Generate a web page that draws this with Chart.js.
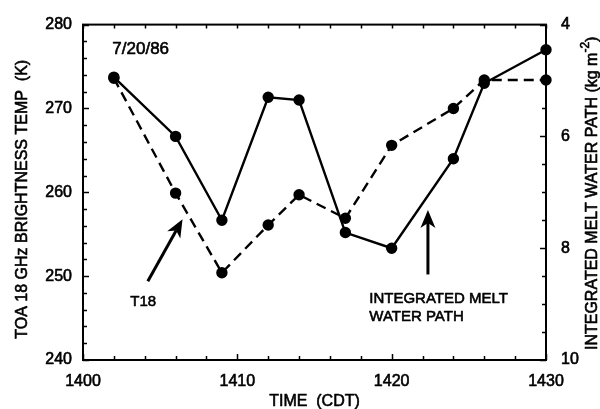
<!DOCTYPE html>
<html>
<head>
<meta charset="utf-8">
<script src="https://cdn.jsdelivr.net/npm/chart.js@4/dist/chart.umd.min.js"></script>
<style>
  html, body { margin: 0; padding: 0; background: #fff; }
  #wrap { width: 600px; height: 409px; position: relative; }
</style>
</head>
<body>
<div id="wrap"><canvas id="c" width="600" height="409"></canvas></div>
<script>
// Sampling times (CDT, hhmm)
const times = [1402, 1406, 1409, 1412, 1414, 1417, 1420, 1424, 1426, 1430];
// Top-of-atmosphere 18 GHz brightness temperature (K)
const t18 = [273.6, 259.9, 250.4, 256.1, 259.7, 256.9, 265.6, 270.0, 273.4, 273.4];
// Integrated melt water path (kg m^-2)
const meltPath = [4.94, 6.00, 7.50, 5.30, 5.35, 7.72, 8.00, 6.40, 5.05, 4.45];
// Axis tick values
const timeTicks = [1400, 1410, 1420, 1430];
const tempTicks = [240, 250, 260, 270, 280];
const pathTicks = [4, 6, 8, 10];

const FONT = '"Liberation Sans", Arial, Helvetica, sans-serif';
const INK = '#000';
const TEXT_STROKE = 0.6;

const pts = (xs, ys) => xs.map((x, i) => ({ x: x, y: ys[i] }));

// Text with a thin outline so glyphs read as heavy as the plotted lines
function heavyText(ctx, str, x, y) {
  ctx.fillText(str, x, y);
  ctx.strokeText(str, x, y);
}

// Inward tick marks, plot frame, axis titles, notes and arrows
const decorations = {
  id: 'decorations',
  afterDraw(chart) {
    const { ctx, chartArea: a, scales } = chart;
    const sx = scales.x, sy = scales.y, sy2 = scales.y2;
    ctx.save();
    ctx.strokeStyle = INK;
    ctx.fillStyle = INK;

    // frame
    ctx.lineWidth = 2;
    ctx.strokeRect(a.left, a.top, a.right - a.left, a.bottom - a.top);

    // ticks
    ctx.lineWidth = 1.5;
    ctx.beginPath();
    for (let t = 1400; t <= 1430; t += 2) {
      const px = Math.round(sx.getPixelForValue(t)) + 0.5;
      const major = (t % 10 === 0);
      ctx.moveTo(px, a.bottom); ctx.lineTo(px, a.bottom - (major ? 6 : 4));
      ctx.moveTo(px, a.top); ctx.lineTo(px, a.top + 4);
    }
    for (let v = 240; v <= 280; v += 2) {
      const py = Math.round(sy.getPixelForValue(v)) + 0.5;
      ctx.moveTo(a.left, py); ctx.lineTo(a.left + (v % 10 === 0 ? 6 : 4), py);
    }
    for (let v = 4; v <= 10; v += 0.5) {
      const py = Math.round(sy2.getPixelForValue(v)) + 0.5;
      ctx.moveTo(a.right, py); ctx.lineTo(a.right - (v % 2 === 0 ? 6 : 4), py);
    }
    ctx.stroke();

    // arrows with broad filled heads
    const arrow = (x0, y0, x1, y1) => {
      const ang = Math.atan2(y1 - y0, x1 - x0);
      const hl = 18, hw = 7.5, notch = 5;
      const c = Math.cos(ang), s = Math.sin(ang);
      const bx = x1 - hl * c, by = y1 - hl * s;
      ctx.lineWidth = 3;
      ctx.beginPath(); ctx.moveTo(x0, y0); ctx.lineTo(bx + notch * c, by + notch * s); ctx.stroke();
      ctx.beginPath();
      ctx.moveTo(x1, y1);
      ctx.lineTo(bx + hw * s, by - hw * c);
      ctx.lineTo(bx + notch * c, by + notch * s);
      ctx.lineTo(bx - hw * s, by + hw * c);
      ctx.closePath(); ctx.fill();
    };
    arrow(sx.getPixelForValue(1404.2), sy.getPixelForValue(249.4),
          sx.getPixelForValue(1406.45), sy.getPixelForValue(256.8));
    arrow(sx.getPixelForValue(1422.35), sy.getPixelForValue(250.2),
          sx.getPixelForValue(1422.35), sy.getPixelForValue(257.9));

    ctx.lineWidth = TEXT_STROKE;
    ctx.lineJoin = 'round';
    ctx.textBaseline = 'alphabetic';

    // notes
    ctx.textAlign = 'left';
    ctx.font = '17px ' + FONT;
    heavyText(ctx, '7/20/86', sx.getPixelForValue(1401.9), sy.getPixelForValue(276.5));
    ctx.font = '15px ' + FONT;
    ctx.textAlign = 'center';
    heavyText(ctx, 'T18', sx.getPixelForValue(1403.9), sy.getPixelForValue(246.4));
    ctx.textAlign = 'left';
    heavyText(ctx, 'INTEGRATED MELT', sx.getPixelForValue(1418.55), sy.getPixelForValue(246.8));
    heavyText(ctx, 'WATER PATH', sx.getPixelForValue(1418.55), sy.getPixelForValue(244.7));

    // x axis title
    ctx.font = '16px ' + FONT;
    ctx.textAlign = 'center';
    heavyText(ctx, 'TIME  (CDT)', (a.left + a.right) / 2, 406);

    // left axis title, reading upward
    ctx.save();
    ctx.translate(27, (a.top + a.bottom) / 2 + 7);
    ctx.rotate(-Math.PI / 2);
    ctx.textAlign = 'center';
    heavyText(ctx, 'TOA 18 GHz BRIGHTNESS TEMP  (K)', 0, 0);
    ctx.restore();

    // right axis title, reading upward, with superscript exponent
    ctx.save();
    ctx.translate(597, (a.top + a.bottom) / 2 + 1);
    ctx.rotate(-Math.PI / 2);
    ctx.textAlign = 'left';
    const main = 'INTEGRATED MELT WATER PATH (kg m';
    const sup = '-2';
    const tail = ')';
    ctx.font = '16px ' + FONT;
    const wMain = ctx.measureText(main).width, wTail = ctx.measureText(tail).width;
    ctx.font = '12px ' + FONT;
    const wSup = ctx.measureText(sup).width;
    let x = -(wMain + wSup + wTail) / 2;
    ctx.font = '16px ' + FONT;
    heavyText(ctx, main, x, 0); x += wMain;
    ctx.font = '12px ' + FONT;
    heavyText(ctx, sup, x, -8); x += wSup;
    ctx.font = '16px ' + FONT;
    heavyText(ctx, tail, x, 0);
    ctx.restore();

    ctx.restore();
  }
};

const tickStyle = (pad) => ({
  color: INK, padding: pad,
  font: { family: FONT, size: 16 },
  textStrokeColor: INK, textStrokeWidth: TEXT_STROKE,
  maxRotation: 0,
  callback: v => String(v)
});

new Chart(document.getElementById('c'), {
  type: 'line',
  data: {
    datasets: [
      {
        label: 'Integrated melt water path',
        data: pts(times, meltPath),
        yAxisID: 'y2',
        borderColor: INK,
        backgroundColor: INK,
        borderWidth: 2.4,
        pointRadius: 4.5,
        pointHoverRadius: 4.5,
        tension: 0,
        clip: false
      },
      {
        label: 'T18',
        data: pts(times, t18),
        yAxisID: 'y',
        borderColor: INK,
        backgroundColor: INK,
        borderWidth: 2.4,
        borderDash: [10, 6],
        pointRadius: 4.5,
        pointHoverRadius: 4.5,
        tension: 0,
        clip: false
      }
    ]
  },
  options: {
    responsive: false,
    animation: false,
    devicePixelRatio: 1,
    layout: { padding: { top: 18, left: 0, right: 0, bottom: 0 } },
    plugins: { legend: { display: false }, tooltip: { enabled: false } },
    scales: {
      x: {
        type: 'linear',
        min: 1400, max: 1430,
        afterFit(s) { s.height = 49; },
        afterBuildTicks(s) { s.ticks = timeTicks.map(v => ({ value: v })); },
        grid: { display: false, drawTicks: false },
        border: { display: false },
        ticks: tickStyle(12)
      },
      y: {
        position: 'left',
        min: 240, max: 280,
        afterFit(s) { s.width = 83; },
        afterBuildTicks(s) { s.ticks = tempTicks.map(v => ({ value: v })); },
        grid: { display: false, drawTicks: false },
        border: { display: false },
        ticks: tickStyle(11)
      },
      y2: {
        position: 'right',
        reverse: true,
        min: 4, max: 10,
        afterFit(s) { s.width = 54; },
        afterBuildTicks(s) { s.ticks = pathTicks.map(v => ({ value: v })); },
        grid: { display: false, drawTicks: false },
        border: { display: false },
        ticks: tickStyle(15)
      }
    }
  },
  plugins: [decorations]
});
</script>
</body>
</html>
